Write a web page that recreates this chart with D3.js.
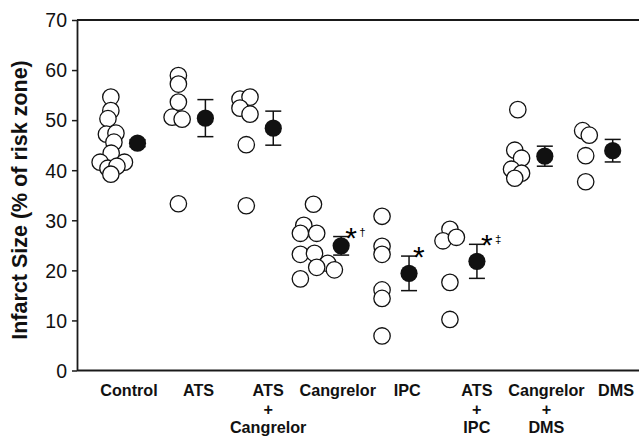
<!DOCTYPE html>
<html>
<head>
<meta charset="utf-8">
<script src="https://cdn.jsdelivr.net/npm/d3@7"></script>
<style>
html,body{margin:0;padding:0;background:#fff;}
svg{display:block;}
text{font-family:"Liberation Sans",Arial,Helvetica,sans-serif;fill:#111;}
</style>
</head>
<body>
<svg id="chart" width="639" height="437"></svg>
<script>
// ---- data ----
const categories = ["Control", "ATS", "ATS|+|Cangrelor", "Cangrelor", "IPC", "ATS|+|IPC", "Cangrelor|+|DMS", "DMS"];
const individualValues = [
  [54.6, 51.9, 50.3, 47.2, 47.4, 45.6, 43.4, 41.6, 41.6, 40.4, 40.8, 39.2],
  [58.9, 57.2, 53.6, 50.6, 50.2, 33.3],
  [54.2, 54.6, 52.4, 51.2, 45.1, 32.9],
  [33.2, 29.0, 27.4, 27.4, 23.2, 23.4, 21.4, 20.6, 20.1, 18.3],
  [30.8, 24.8, 23.2, 16.1, 14.4, 6.9],
  [28.2, 25.9, 26.6, 17.6, 10.2],
  [52.1, 44.0, 42.4, 40.2, 39.4, 38.4],
  [47.9, 47.0, 42.9, 37.7]
];
// horizontal scatter of the individual circles, in units of circle diameter
const jitter = [
  [0.02, 0.02, -0.15, -0.24, 0.32, 0.2, 0.04, -0.61, 0.82, -0.15, 0.38, 0.02],
  [0, 0, 0, -0.37, 0.22, 0],
  [-0.37, 0.22, -0.37, 0.22, 0, 0],
  [-0.04, -0.61, -0.81, 0.15, -0.81, 0.02, 0.8, 0.15, 1.19, -0.81],
  [0, 0, 0, 0, 0, 0],
  [0, -0.41, 0.38, 0, 0],
  [0, -0.18, 0.22, -0.37, 0.22, -0.18],
  [-0.18, 0.21, 0, 0]
];
const means = [45.4, 50.4, 48.4, 24.9, 19.4, 21.8, 42.8, 43.9];
const sems  = [0.7, 3.7, 3.4, 1.85, 3.45, 3.4, 2.0, 2.25];
const stars = ["", "", "", "*", "*", "*", "", ""];
const daggers = ["", "", "", "†", "", "‡", "", ""];
const yTicks = [0, 10, 20, 30, 40, 50, 60, 70];
const yTitle = "Infarct Size (% of risk zone)";

// ---- layout ----
const svg = d3.select("#chart");
const axisX = 77, plotRight = 639, plotTop = 20, plotBottom = 370.5;
const y = d3.scaleLinear().domain([0, 70]).range([plotBottom, plotTop]);
const idx = d3.range(categories.length);
const xMean = d3.scalePoint().domain(idx).range([137.5, 612.7]);
const xLabel = d3.scalePoint().domain(idx).range([129, 616]);
const pointOffset = -27;
const r = 8.2, diam = 17;

// frame lines
svg.append("line").attr("x1", axisX).attr("x2", plotRight).attr("y1", plotTop).attr("y2", plotTop)
  .attr("stroke", "#1a1a1a").attr("stroke-width", 1.8);
svg.append("line").attr("x1", axisX).attr("x2", plotRight).attr("y1", plotBottom).attr("y2", plotBottom)
  .attr("stroke", "#1a1a1a").attr("stroke-width", 1.8);

// y axis
const yAxis = d3.axisLeft(y).tickValues(yTicks).tickSize(5).tickPadding(5).tickSizeOuter(0);
const gy = svg.append("g").attr("transform", `translate(${axisX},0)`).call(yAxis);
gy.select(".domain").attr("stroke", "#1a1a1a").attr("stroke-width", 1.8);
gy.selectAll(".tick line").attr("stroke", "#1a1a1a").attr("stroke-width", 1.5);
gy.selectAll(".tick text").attr("font-size", 19.5).attr("fill", "#111").attr("dy", "0.35em")
  .style("font-family", '"Liberation Sans", Arial, sans-serif');

// y title
svg.append("text")
  .attr("transform", `translate(27,200) rotate(-90)`)
  .attr("text-anchor", "middle")
  .attr("font-size", 21.5).attr("font-weight", "bold")
  .text(yTitle);

// x category labels
const lab = svg.append("g");
categories.forEach((c, i) => {
  const lines = c.split("|");
  const t = lab.append("text").attr("text-anchor", "middle")
    .attr("font-size", 16.2).attr("font-weight", "bold");
  lines.forEach((l, k) => {
    t.append("tspan").attr("x", xLabel(i)).attr("y", 396 + k * 18.5).text(l);
  });
});

// individual points
const pts = svg.append("g");
individualValues.forEach((vals, i) => {
  vals.forEach((v, k) => {
    pts.append("circle")
      .attr("cx", xMean(i) + pointOffset + jitter[i][k] * diam)
      .attr("cy", y(v)).attr("r", r)
      .attr("fill", "#fff").attr("stroke", "#111").attr("stroke-width", 1.3);
  });
});

// means with SEM
const mg = svg.append("g");
means.forEach((m, i) => {
  const cx = xMean(i);
  const hi = y(m + sems[i]), lo = y(m - sems[i]);
  mg.append("line").attr("x1", cx).attr("x2", cx).attr("y1", hi).attr("y2", lo)
    .attr("stroke", "#111").attr("stroke-width", 1.5);
  [hi, lo].forEach(yy => mg.append("line").attr("x1", cx - 8).attr("x2", cx + 8)
    .attr("y1", yy).attr("y2", yy).attr("stroke", "#111").attr("stroke-width", 1.5));
  mg.append("circle").attr("cx", cx).attr("cy", y(m)).attr("r", 8.6).attr("fill", "#111");
  if (stars[i]) {
    mg.append("text").attr("x", cx + 4).attr("y", hi + 11)
      .attr("font-size", 30).style("fill", "#000").text(stars[i]);
  }
  if (daggers[i]) {
    mg.append("text").attr("x", cx + 18).attr("y", hi - 1)
      .attr("font-size", 11.5).style("fill", "#000").text(daggers[i]);
  }
});
</script>
</body>
</html>
